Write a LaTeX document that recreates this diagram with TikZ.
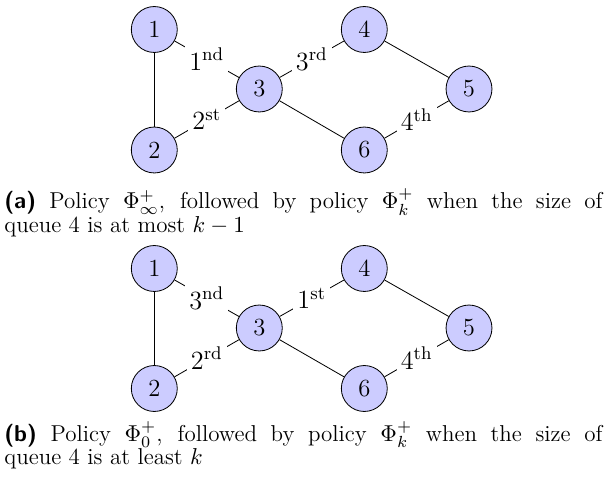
\RequirePackage{fix-cm}
\documentclass[tikz,border=0pt]{standalone}
\usepackage{fontspec}
\usepackage{amsmath}
\begin{document}
\begin{tikzpicture}[x=0.4876pt,y=-0.4876pt,
  vertex/.style={circle,draw,fill=blue!20,minimum size=22.4pt,inner sep=0pt,font=\fontsize{12}{14}\selectfont},
  elabel/.style={fill=white,inner sep=2pt,font=\fontsize{12.8}{15}\selectfont},
  captext/.style={anchor=base west,text width=291.6pt,align=justify,inner sep=0pt,font=\fontsize{11.2}{11.4}\selectfont}]
\useasboundingbox (0,0) rectangle (605,484);
% (a)
\node[vertex] (a1) at (154.3,29.5) {1};
\node[vertex] (a2) at (154.3,150) {2};
\node[vertex] (a3) at (259.3,89) {3};
\node[vertex] (a4) at (364.3,29.5) {4};
\node[vertex] (a5) at (469,89) {5};
\node[vertex] (a6) at (364.3,150) {6};
\draw (a1) -- (a2);
\draw (a1) -- node[elabel]{$1^{\mathrm{nd}}$} (a3);
\draw (a2) -- node[elabel]{$2^{\mathrm{st}}$} (a3);
\draw (a3) -- node[elabel]{$3^{\mathrm{rd}}$} (a4);
\draw (a4) -- (a5);
\draw (a3) -- (a6);
\draw (a6) -- node[elabel]{$4^{\mathrm{th}}$} (a5);
\node[captext] (capa) at (4,208.7) {{\sffamily\bfseries (a)} Policy $\Phi^+_\infty$, followed by policy $\Phi^+_k$ when the size of\linebreak queue 4 is at most $k-1$};
% (b)
\node[vertex] (b1) at (154.3,268.5) {1};
\node[vertex] (b2) at (154.3,388.5) {2};
\node[vertex] (b3) at (259.3,328) {3};
\node[vertex] (b4) at (364.3,268.5) {4};
\node[vertex] (b5) at (469,328) {5};
\node[vertex] (b6) at (364.3,388.5) {6};
\draw (b1) -- (b2);
\draw (b1) -- node[elabel]{$3^{\mathrm{nd}}$} (b3);
\draw (b2) -- node[elabel]{$2^{\mathrm{rd}}$} (b3);
\draw (b3) -- node[elabel]{$1^{\mathrm{st}}$} (b4);
\draw (b4) -- (b5);
\draw (b3) -- (b6);
\draw (b6) -- node[elabel]{$4^{\mathrm{th}}$} (b5);
\node[captext] (capb) at (4,441) {{\sffamily\bfseries (b)} Policy $\Phi^+_0$, followed by policy $\Phi^+_k$ when the size of\linebreak queue 4 is at least $k$};
\end{tikzpicture}
\end{document}
